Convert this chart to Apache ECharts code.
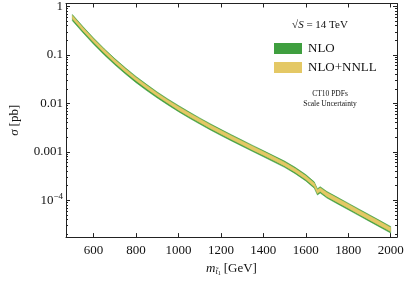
<!DOCTYPE html>
<html><head><meta charset="utf-8">
<script src="https://cdn.jsdelivr.net/npm/echarts@6/dist/echarts.min.js"></script>
<style>html,body{margin:0;padding:0;background:#fff}#c{width:407px;height:281px}</style>
</head><body><div id="c"></div>
<script>
// stop mass [GeV]
const masses = [500,550,600,650,700,750,800,850,900,950,1000,1050,1100,1150,1200,1250,1300,1350,1400,1450,1500,1550,1600,1640,1655,1668,1700,1750,1800,1850,1900,1950,2000];
// NLO+NNLL central cross section [pb]
const sigmaNNLL = [0.603,0.339,0.197,0.119,0.0741,0.0479,0.0318,0.0218,0.0152,0.0109,0.00793,0.00586,0.00440,0.00333,0.00255,0.00197,0.00153,0.00119,9.31e-4,7.24e-4,5.62e-4,4.17e-4,2.95e-4,2.09e-4,1.51e-4,1.66e-4,1.32e-4,1.00e-4,7.59e-5,5.75e-5,4.37e-5,3.31e-5,2.51e-5];
// NLO+NNLL scale uncertainty [%]
const nnllErrPct = [8,8,8,8,8,8,8,8,8,8,9,9,9,9,9,9,9,9,9,9,9,9,9,9,9,9,10,10,10,10,10,10,10];
// NLO band edges relative to NLO+NNLL central [%]
const nloUpPct   = [13,13,13,13,13,13,13,13,13,13,14,14,14,14,14,14,14,14,14,14,15,15,15,15,15,15,15,15,15,15,15,15,15];
const nloDownPct = [16,16,16,16,16,16,16,16,15,15,15,15,15,15,15,15,15,15,15,15,15,15,15,15,15,15,16,16,16,16,16,16,16];

const xTicks = [600,800,1000,1200,1400,1600,1800,2000];
const yTicks = [1e-4,1e-3,1e-2,0.1,1];
const yTickLabels = ['{b|10}{sup|−4}','{b|0.001}','{b|0.01}','{b|0.1}','{b|1}'];

const nnllLow = sigmaNNLL.map((s,i)=>s*(1-nnllErrPct[i]/100));
const nnllHigh = sigmaNNLL.map((s,i)=>s*(1+nnllErrPct[i]/100));
const nloLow = sigmaNNLL.map((s,i)=>s*(1-nloDownPct[i]/100));
const nloHigh = sigmaNNLL.map((s,i)=>s*(1+nloUpPct[i]/100));

const yMinor = [];
for (let e=-5;e<=0;e++) for (let k=2;k<=9;k++){ const v=k*Math.pow(10,e); if(v>1.74e-5 && v<1.15) yMinor.push(v); }

const GREEN='#3f9f3f', YELLOW='#e4c865';
const FONT='Liberation Serif';
const XMIN=470, XMAX=2030, YMIN=1.74e-5, YMAX=1.15;

function band(name,color,lo,hi){
  return {type:'custom',name,coordinateSystem:'cartesian2d',xAxisIndex:0,yAxisIndex:0,
    itemStyle:{color},clip:true,
    data:masses.map((m,i)=>[m,lo[i],hi[i]]),
    encode:{x:0,y:[1,2]},
    renderItem(params,api){
      if(params.dataIndex!==0) return null;
      const pts=[];
      for(let i=0;i<masses.length;i++) pts.push(api.coord([masses[i],hi[i]]));
      for(let i=masses.length-1;i>=0;i--) pts.push(api.coord([masses[i],lo[i]]));
      return {type:'polygon',shape:{points:pts},style:{fill:color,stroke:color,lineWidth:0.5}};
    }
  };
}
const lineStyle={color:'#222',width:1};
const chart=echarts.init(document.getElementById('c'),null,{renderer:'canvas'});
chart.setOption({
  animation:false,
  color:[GREEN,YELLOW],
  textStyle:{fontFamily:FONT},
  grid:{left:53,right:10,top:3,bottom:37,containLabel:false},
  xAxis:[
    {type:'value',min:XMIN,max:XMAX,position:'bottom',
     axisLine:{lineStyle},splitLine:{show:false},
     axisTick:{inside:true,length:4,lineStyle,customValues:xTicks},
     axisLabel:{customValues:xTicks,color:'#111',fontSize:13,fontFamily:FONT,margin:7,formatter:(v)=>String(v)},
     name:'{i|m}{sub|t̃}{sub2|1} {b|[GeV]}',nameLocation:'middle',nameGap:17,
     nameTextStyle:{rich:{
       i:{fontFamily:FONT,fontStyle:'italic',fontSize:13,color:'#111'},
       sub:{fontFamily:FONT,fontStyle:'italic',fontSize:8,color:'#111',padding:[6,0,0,0]},
       sub2:{fontFamily:FONT,fontSize:6,color:'#111',padding:[9,0,0,0]},
       b:{fontFamily:FONT,fontSize:13,color:'#111'}}}},
    {type:'value',min:XMIN,max:XMAX,position:'top',
     axisLine:{lineStyle},splitLine:{show:false},
     axisTick:{inside:true,length:4,lineStyle,customValues:xTicks},
     axisLabel:{show:false}}
  ],
  yAxis:[
    {type:'log',min:YMIN,max:YMAX,position:'left',logBase:10,
     axisLine:{lineStyle},splitLine:{show:false},
     axisTick:{inside:true,length:4,lineStyle,customValues:yTicks},
     axisLabel:{customValues:yTicks,margin:3,
       formatter:(v)=>{let best=0;for(let i=0;i<yTicks.length;i++){if(Math.abs(Math.log10(v)-Math.log10(yTicks[i]))<Math.abs(Math.log10(v)-Math.log10(yTicks[best])))best=i;}return yTickLabels[best];},
       rich:{b:{fontFamily:FONT,fontSize:13,color:'#111'},sup:{fontFamily:FONT,fontSize:9,color:'#111',padding:[0,0,7,0]}}},
     name:'{i|σ} {b|[pb]}',nameLocation:'middle',nameGap:45,nameRotate:90,
     nameTextStyle:{rich:{i:{fontFamily:FONT,fontStyle:'italic',fontSize:13,color:'#111'},b:{fontFamily:FONT,fontSize:13,color:'#111'}}}},
    {type:'log',min:YMIN,max:YMAX,position:'right',logBase:10,
     axisLine:{lineStyle},splitLine:{show:false},
     axisTick:{inside:true,length:4,lineStyle,customValues:yTicks},
     axisLabel:{show:false}},
    {type:'log',min:YMIN,max:YMAX,position:'left',logBase:10,
     axisLine:{show:false},splitLine:{show:false},
     axisTick:{inside:true,length:2,lineStyle,customValues:yMinor},
     axisLabel:{show:false}},
    {type:'log',min:YMIN,max:YMAX,position:'right',logBase:10,
     axisLine:{show:false},splitLine:{show:false},
     axisTick:{inside:true,length:2,lineStyle,customValues:yMinor},
     axisLabel:{show:false}}
  ],
  legend:{show:true,orient:'vertical',left:274,top:42,padding:0,itemWidth:28,itemHeight:11,itemGap:6,
    icon:'rect',selectedMode:false,
    textStyle:{fontFamily:FONT,fontSize:13,color:'#111',padding:[0,0,0,1]},
    data:['NLO','NLO+NNLL']},
  graphic:[
    {type:'text',x:320,y:25,style:{text:'√{o|S} = 14 TeV',fontFamily:FONT,fontSize:11,fill:'#111',align:'center',verticalAlign:'middle',
      rich:{o:{fontFamily:FONT,fontStyle:'italic',fontSize:11,fill:'#111'}}}},
    {type:'text',x:330,y:94,style:{text:'CT10 PDFs',fontFamily:FONT,fontSize:7.5,fill:'#111',align:'center',verticalAlign:'middle'}},
    {type:'text',x:330,y:104,style:{text:'Scale Uncertainty',fontFamily:FONT,fontSize:7.5,fill:'#111',align:'center',verticalAlign:'middle'}}
  ],
  series:[
    band('NLO',GREEN,nloLow,nloHigh),
    band('NLO+NNLL',YELLOW,nnllLow,nnllHigh)
  ]
});
</script></body></html>
